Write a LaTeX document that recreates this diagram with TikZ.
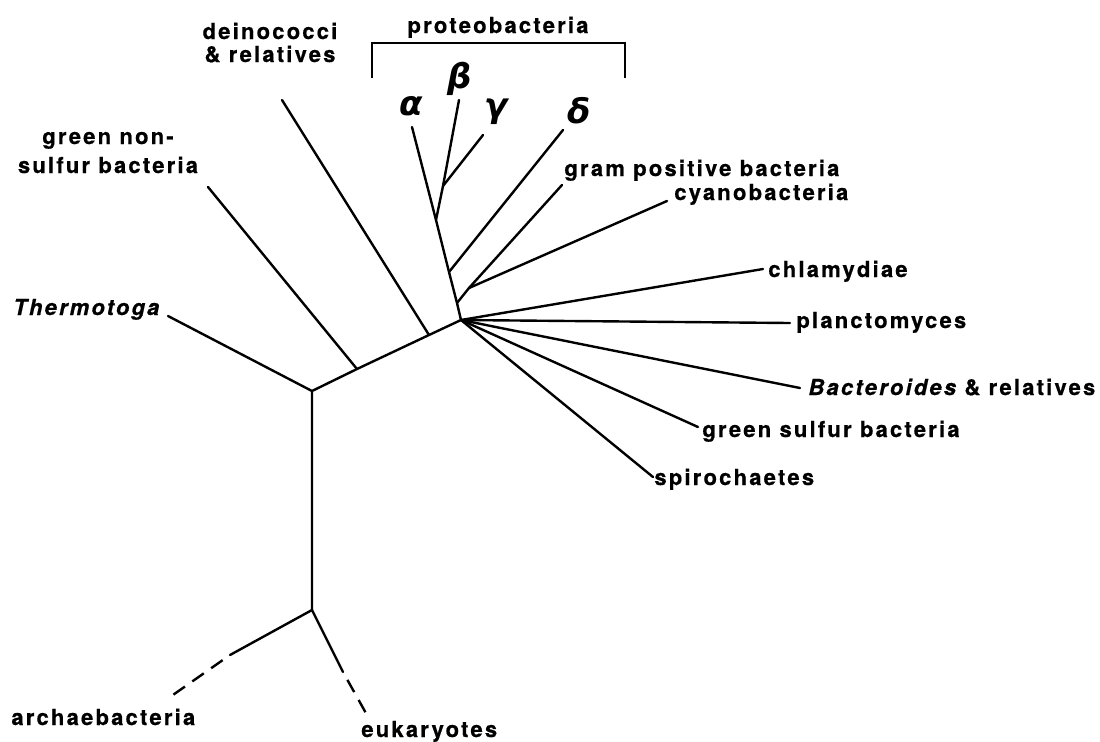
\documentclass[tikz,border=0pt]{standalone}
\usepackage{amsmath, amssymb}
\usepackage{fontspec}
\setmainfont{TeX Gyre Heros}[LetterSpace=10, BoldFeatures={FakeBold=0.6}, BoldItalicFeatures={FakeBold=0.6}]
\newfontfamily\greekfont{DejaVu Sans}
\usepackage{tikz}
\usetikzlibrary{positioning}

\begin{document}
\begin{tikzpicture}[x=0.5pt, y=-0.5pt,
    branch/.style={line width=1.2pt, line cap=round},
    gapped/.style={line width=1.2pt, dash pattern=on 7pt off 4.5pt, dash phase=7pt},
    taxon/.style={font=\bfseries\fontsize{11}{12}\selectfont, inner sep=0pt, anchor=base west},
    greek/.style={font=\greekfont\bfseries\itshape\fontsize{17}{19}\selectfont, inner sep=0pt, anchor=base west}]

    \useasboundingbox (0,0) rectangle (1100,741);

    % Backbone of the tree
    \coordinate (hub)   at (461,320);
    \coordinate (jdein) at (429,335);
    \coordinate (jgns)  at (357,369);
    \coordinate (root)  at (312,391);
    \coordinate (low)   at (312,610);

    % Proteobacteria stem and side branches
    \coordinate (jgp)    at (457,303);
    \coordinate (jdelta) at (449,272);
    \coordinate (jbg)    at (436,220);
    \coordinate (nbg)    at (443,186);
    \coordinate (ngp)    at (469,288);

    % Branch tips
    \coordinate (tdein)   at (282,100);
    \coordinate (tgns)    at (208,187);
    \coordinate (tthermo) at (168,316);
    \coordinate (talpha)  at (412,127);
    \coordinate (tbeta)   at (459,100);
    \coordinate (tgamma)  at (483,135);
    \coordinate (tdelta)  at (563,130);
    \coordinate (tgram)   at (562,185);
    \coordinate (tcyano)  at (667,201);
    \coordinate (tchlam)  at (763,269);
    \coordinate (tplanc)  at (790,323);
    \coordinate (tbact)   at (800,388);
    \coordinate (tgsb)    at (698,427);
    \coordinate (tspiro)  at (653,477);
    \coordinate (marc)    at (230,655);
    \coordinate (tarc)    at (170,697);
    \coordinate (meuk)    at (343,672);
    \coordinate (teuk)    at (367,715);

    % Bracket corners
    \coordinate (brL)  at (372,78);
    \coordinate (brTL) at (372,43);
    \coordinate (brR)  at (625,78);

    % Labels
    \node[taxon, anchor=base] (proteo) at (498,33) {proteobacteria};
    \node[taxon, anchor=base, align=center] (dein) at (270,62) {deinococci\\[-0.5pt]\& relatives};
    \node[taxon, anchor=base, align=center] (gns) at (108,173) {green non-\\[2.5pt]sulfur bacteria};
    \node[taxon] (thermo) at (13,315) {\itshape Thermotoga};
    \node[greek] (alpha) at (399,115) {α};
    \node[greek] (beta)  at (447,88) {β};
    \node[greek] (gamma) at (484,117) {γ};
    \node[greek] (delta) at (567,123) {δ};
    \node[taxon] (gram)  at (564,176) {gram positive bacteria};
    \node[taxon] (cyano) at (674,200) {cyanobacteria};
    \node[taxon] (chlam) at (768,277) {chlamydiae};
    \node[taxon] (planc) at (796,328) {planctomyces};
    \node[taxon] (bact)  at (808,395) {{\itshape Bacteroides} \& relatives};
    \node[taxon] (gsb)   at (702,437) {green sulfur bacteria};
    \node[taxon] (spiro) at (654,485) {spirochaetes};
    \node[taxon] (arc)   at (11,725) {archaebacteria};
    \node[taxon] (euk)   at (361,737) {eukaryotes};

    % Branches
    \draw[branch] (hub) -- (jdein) -- (jgns) -- (root) -- (low);
    \draw[branch] (jdein) -- (tdein);
    \draw[branch] (jgns) -- (tgns);
    \draw[branch] (root) -- (tthermo);
    \draw[branch] (hub) -- (jgp) -- (jdelta) -- (jbg) -- (talpha);
    \draw[branch] (jbg) -- (nbg) -- (tbeta);
    \draw[branch] (nbg) -- (tgamma);
    \draw[branch] (jdelta) -- (tdelta);
    \draw[branch] (jgp) -- (ngp) -- (tgram);
    \draw[branch] (ngp) -- (tcyano);
    \draw[branch] (hub) -- (tchlam);
    \draw[branch] (hub) -- (tplanc);
    \draw[branch] (hub) -- (tbact);
    \draw[branch] (hub) -- (tgsb);
    \draw[branch] (hub) -- (tspiro);
    \draw[branch] (low) -- (marc);
    \draw[gapped] (marc) -- (tarc);
    \draw[branch] (low) -- (meuk);
    \draw[gapped] (meuk) -- (teuk);

    % Bracket
    \draw[branch, line cap=butt] (brL) -- (brTL) -| (brR);

\end{tikzpicture}
\end{document}
